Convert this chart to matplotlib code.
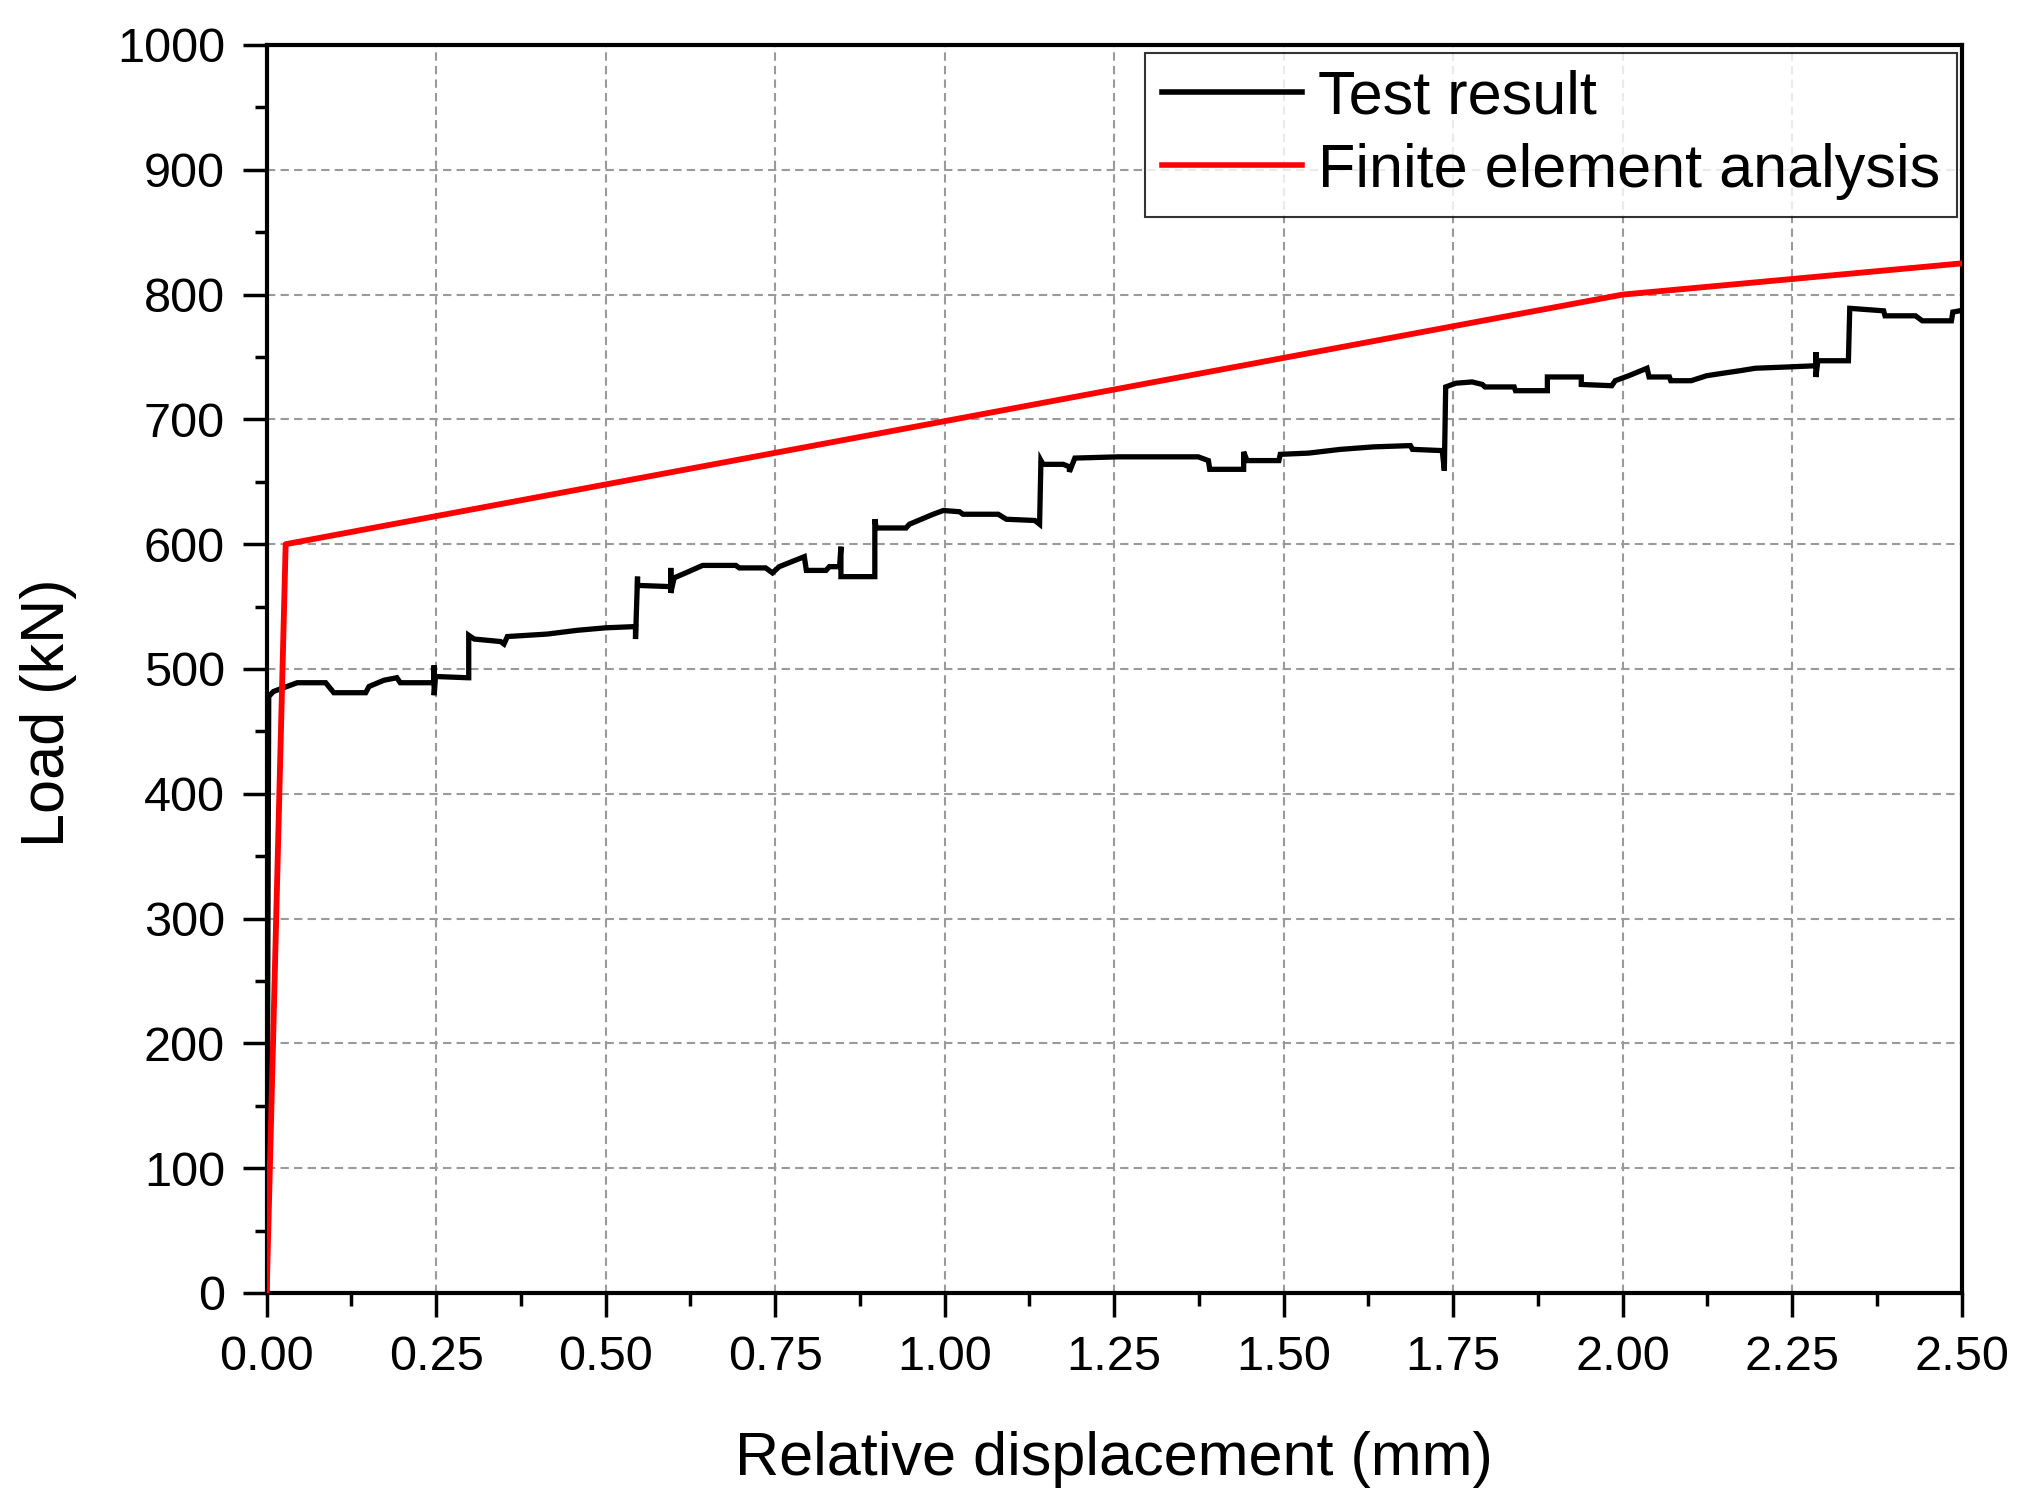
import matplotlib
matplotlib.use("Agg")
import matplotlib.pyplot as plt
from matplotlib.ticker import MultipleLocator

plt.rcParams['font.family'] = ['Liberation Sans', 'DejaVu Sans']

# Test result (load-displacement)
test_x = [0.000, 0.003, 0.010, 0.030, 0.045, 0.087, 0.099, 0.146, 0.151, 0.173, 0.192, 0.197,
          0.247, 0.247, 0.247, 0.249, 0.296, 0.298, 0.298, 0.306, 0.345, 0.350, 0.355, 0.414,
          0.458, 0.500, 0.544, 0.544, 0.547, 0.547, 0.596, 0.596, 0.596, 0.601, 0.618, 0.643,
          0.692, 0.697, 0.736, 0.746, 0.756, 0.793, 0.796, 0.825, 0.830, 0.845, 0.847, 0.847,
          0.897, 0.897, 0.899, 0.943, 0.948, 0.983, 0.998, 1.022, 1.027, 1.079, 1.091, 1.133,
          1.140, 1.142, 1.145, 1.175, 1.184, 1.184, 1.192, 1.256, 1.374, 1.389, 1.391, 1.441,
          1.441, 1.446, 1.493, 1.495, 1.537, 1.584, 1.633, 1.687, 1.690, 1.734, 1.737, 1.739,
          1.754, 1.778, 1.793, 1.797, 1.840, 1.842, 1.889, 1.889, 1.939, 1.939, 1.984, 1.989,
          2.009, 2.036, 2.039, 2.069, 2.071, 2.101, 2.124, 2.148, 2.173, 2.196, 2.243, 2.285,
          2.285, 2.285, 2.288, 2.333, 2.335, 2.385, 2.387, 2.432, 2.442, 2.485, 2.487, 2.497]
test_y = [0, 478, 482, 486, 489, 489, 481, 481, 486, 491, 493, 489,
          489, 503, 479, 494, 493, 493, 527, 524, 522, 520, 526, 528,
          531, 533, 534, 524, 574, 567, 566, 581, 561, 573, 577, 583,
          583, 581, 581, 577, 582, 590, 579, 579, 582, 582, 598, 574,
          574, 620, 613, 613, 616, 624, 627, 626, 624, 624, 620, 619,
          616, 667, 664, 664, 662, 658, 669, 670, 670, 667, 660, 660,
          674, 667, 667, 672, 673, 676, 678, 679, 676, 675, 659, 726,
          729, 730, 728, 726, 726, 723, 723, 734, 734, 728, 727, 731,
          735, 741, 734, 734, 731, 731, 735, 737, 739, 741, 742, 743,
          754, 734, 747, 747, 789, 787, 783, 783, 779, 779, 786, 787]

# Finite element analysis
fea_x = [0.0, 0.028, 2.0, 2.5]
fea_y = [0, 600, 800, 825]

x_ticks = [0.00, 0.25, 0.50, 0.75, 1.00, 1.25, 1.50, 1.75, 2.00, 2.25, 2.50]
y_ticks = [0, 100, 200, 300, 400, 500, 600, 700, 800, 900, 1000]

fig = plt.figure(figsize=(20.25, 15), dpi=100)
ax = fig.add_axes([0.1317, 0.138, 0.9687 - 0.1317, 0.97 - 0.138])

ax.plot(test_x, test_y, color='black', lw=3.8, label='Test result', zorder=3,
        solid_joinstyle='miter')
ax.plot(fea_x, fea_y, color='#ff0000', lw=4.2, label='Finite element analysis', zorder=4)

ax.set_xlim(0, 2.5)
ax.set_ylim(0, 1000)
ax.set_xticks(x_ticks)
ax.set_xticklabels([f"{v:.2f}" for v in x_ticks])
ax.set_yticks(y_ticks)
ax.set_yticklabels([str(v) for v in y_ticks])
ax.xaxis.set_minor_locator(MultipleLocator(0.125))
ax.yaxis.set_minor_locator(MultipleLocator(50))

ax.tick_params(which='major', direction='out', length=17, width=2.5, labelsize=35, pad=13)
ax.tick_params(which='minor', direction='out', length=9, width=2.5)
ax.tick_params(top=False, right=False)

for s in ax.spines.values():
    s.set_linewidth(3.0)

ax.grid(True, which='major', color='#9a9a9a', linestyle=(0, (4, 2.5)), lw=1.5, zorder=0)

ax.set_xlabel('Relative displacement (mm)', fontsize=44, va='center')
ax.set_ylabel('Load (kN)', fontsize=44, va='center')
ax.xaxis.set_label_coords(0.5, -0.1338)
ax.yaxis.set_label_coords(-0.129, 0.465)

leg = ax.legend(loc='upper right', bbox_to_anchor=(0.9972, 0.9938), borderaxespad=0,
                fontsize=44, frameon=True, fancybox=False, handlelength=2.3,
                handletextpad=0.25, borderpad=0.28, labelspacing=0.26)
leg.get_frame().set_edgecolor('black')
leg.get_frame().set_linewidth(1.5)
for line in leg.get_lines():
    line.set_linewidth(4.0)

fig.savefig('out.png', dpi=100, facecolor='white')
